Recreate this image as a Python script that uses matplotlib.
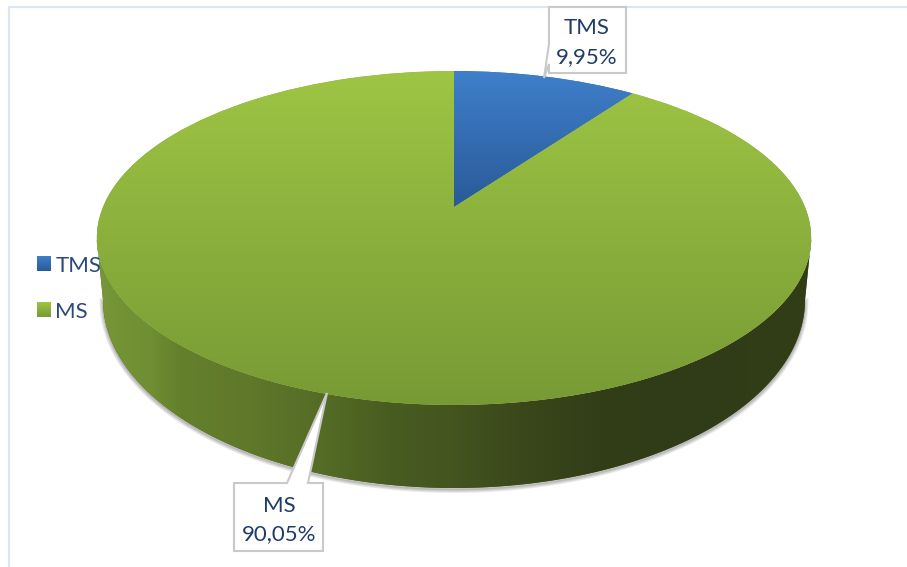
import numpy as np
import matplotlib
matplotlib.use('Agg')
import matplotlib.pyplot as plt
from matplotlib.patches import Polygon
from matplotlib.transforms import Transform

labels = ['TMS', 'MS']
shares = [9.95, 90.05]

# top face of the disc, pixels, seen in perspective
cx, apex_y = 454, 207
a, b, k = 351, 161.2, 0.1856
# base of the disc
base_cy, base_rx, base_ry = 300, 351, 188

text_col = '#1f3c68'
legend_col = '#2a4a7c'
box_col = '#c9c9c9'
border_col = '#dce6f2'

blue_grad = [(63, 127, 203), (41, 90, 152)]
green_grad = [(158, 197, 68), (120, 154, 53)]
wall_x = [100, 150, 180, 250, 320, 390, 450, 520, 600, 680, 811]
wall_r = [118, 112, 100, 95, 85, 72, 68, 58, 50, 48, 50]
wall_g = [150, 142, 128, 120, 108, 92, 85, 72, 62, 60, 62]
wall_b = [55, 50, 45, 42, 38, 32, 32, 27, 24, 23, 23]


class TiltDisc(Transform):
    input_dims = 2
    output_dims = 2

    def transform_non_affine(self, xy):
        xy = np.asarray(xy, dtype=float)
        w = 1 + k * xy[:, 1]
        return np.column_stack([cx + a * xy[:, 0] / w, apex_y - b * xy[:, 1] / w])


def vgrad(stops):
    g = np.linspace(0, 1, 256)[:, None]
    c0, c1 = np.array(stops[0]) / 255, np.array(stops[1]) / 255
    return (c0 + (c1 - c0) * g)[:, None, :]


fig = plt.figure(figsize=(9.07, 5.67), dpi=100)
ax = fig.add_axes([0, 0, 1, 1])
plt.rcParams['font.family'] = ['Lato', 'DejaVu Sans']

wedges, _ = ax.pie(shares, startangle=90, counterclock=False,
                   colors=['#3370b8', '#8aae3c'], wedgeprops={'linewidth': 0, 'zorder': 3})
ax.set_aspect('auto')
ax.set_xlim(0, 907)
ax.set_ylim(567, 0)
ax.axis('off')

tilt = TiltDisc()
for w in wedges:
    w.set_transform(tilt + ax.transData)

# gradients on the top face
extents = [(454, 640, 207, 71), (97, 811, 405, 71)]
for w, st, ext in zip(wedges, [blue_grad, green_grad], extents):
    im = ax.imshow(vgrad(st), extent=ext, aspect='auto', zorder=3)
    im.set_clip_path(w)

# side wall of the disc
t = np.linspace(0, 2 * np.pi, 721)
top_xy = tilt.transform_non_affine(np.column_stack([np.cos(t), np.sin(t)]))
front = top_xy[top_xy[:, 1] >= 238]
front = front[np.argsort(-front[:, 0])]
s = np.linspace(0, np.pi, 361)
base = np.column_stack([cx - base_rx * np.cos(s), base_cy + base_ry * np.sin(s)])
wall_xy = np.vstack([front, base])

# soft shadow under the base edge only
for lw in [5, 3.5, 2, 1]:
    ax.plot(base[:, 0], base[:, 1] + 1.5, color='#555555', lw=lw, alpha=0.12, zorder=1)

wall = Polygon(wall_xy, closed=True, fc='#4a5f24', ec='none', zorder=2)
ax.add_patch(wall)
xs = np.arange(97, 812)
wall_img = np.stack([np.interp(xs, wall_x, wall_r), np.interp(xs, wall_x, wall_g),
                     np.interp(xs, wall_x, wall_b)], axis=-1)[None, :, :] / 255
im = ax.imshow(wall_img, extent=(97, 812, 495, 230), aspect='auto', zorder=2)
im.set_clip_path(wall)

# chart frame
ax.plot([9, 9, 907], [567, 7, 7], color=border_col, lw=1.5, zorder=0, solid_joinstyle='miter')

# data label callouts
tms_box = [(549, 7), (626, 7), (626, 73), (549, 73), (549, 64), (544, 78), (549, 44)]
ms_box = [(234, 483), (287, 483), (327, 393), (308, 483), (323, 483), (323, 551), (234, 551)]
boxes = [tms_box, ms_box]
label_pos = [(587, 28, 57), (279, 506, 534)]
for box, name, val, pos in zip(boxes, labels, shares, label_pos):
    ax.add_patch(Polygon(box, closed=True, fc='white', ec=box_col, lw=1.5, zorder=4))
    ax.text(pos[0], pos[1], name, color=text_col, fontsize=16, ha='center', va='center', zorder=5)
    ax.text(pos[0], pos[2], f'{val:.2f}%'.replace('.', ','), color=text_col, fontsize=16,
            ha='center', va='center', zorder=5)

# legend
leg = ax.legend(wedges, labels, loc='upper left', bbox_to_anchor=(37, 256), bbox_transform=ax.transData,
                frameon=False, fontsize=16, labelcolor=legend_col, handlelength=0.63, handleheight=0.63,
                handletextpad=0.2, labelspacing=1.17, borderaxespad=0, borderpad=0)
fig.canvas.draw()
inv = ax.transData.inverted()
for h, st in zip(leg.get_patches(), [blue_grad, green_grad]):
    (x0, y0), (x1, y1) = inv.transform(h.get_window_extent().get_points())
    ax.imshow(vgrad(st), extent=(x0, x1, y0, y1), aspect='auto', zorder=6)
ax.set_xlim(0, 907)
ax.set_ylim(567, 0)

fig.savefig('out.png', dpi=100)
